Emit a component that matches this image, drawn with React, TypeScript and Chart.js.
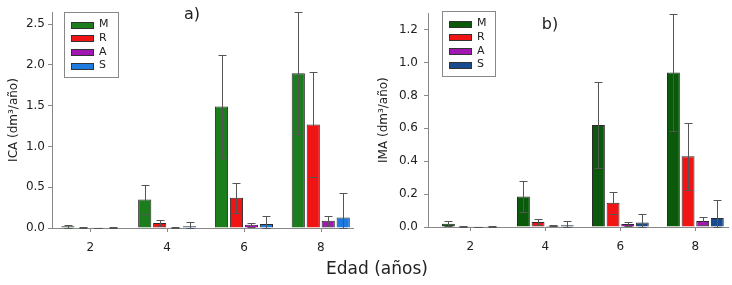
import React, { useEffect, useRef } from "react";
import { Chart, registerables } from "chart.js";

Chart.register(...registerables);

// ---- data ----
const ageLabels = ["2", "4", "6", "8"];
const ages = [2, 4, 6, 8];
const seriesNames = ["M", "R", "A", "S"];

// Panel a) ICA (dm³/año)
const icaM = [0.02, 0.35, 1.49, 1.9];
const icaR = [0.005, 0.06, 0.37, 1.27];
const icaA = [0.003, 0.01, 0.04, 0.09];
const icaS = [0.005, 0.02, 0.05, 0.13];
const icaErrM = [0.015, 0.18, 0.63, 0.75];
const icaErrR = [0.003, 0.04, 0.18, 0.65];
const icaErrA = [0.002, 0.008, 0.025, 0.06];
const icaErrS = [0.003, 0.05, 0.1, 0.3];
const icaTicks = [0, 0.5, 1.0, 1.5, 2.0, 2.5];
const icaTickLabels = ["0.0", "0.5", "1.0", "1.5", "2.0", "2.5"];

// Panel b) IMA (dm³/año)
const imaM = [0.02, 0.185, 0.62, 0.94];
const imaR = [0.005, 0.03, 0.147, 0.43];
const imaA = [0.002, 0.008, 0.018, 0.036];
const imaS = [0.004, 0.01, 0.028, 0.055];
const imaErrM = [0.015, 0.096, 0.26, 0.355];
const imaErrR = [0.002, 0.02, 0.067, 0.205];
const imaErrA = [0.001, 0.004, 0.012, 0.024];
const imaErrS = [0.002, 0.026, 0.05, 0.112];
const imaTicks = [0, 0.2, 0.4, 0.6, 0.8, 1.0, 1.2];
const imaTickLabels = ["0.0", "0.2", "0.4", "0.6", "0.8", "1.0", "1.2"];

const colorsA = ["#1c7d1c", "#f01414", "#a217b2", "#1f7ae0"];
const colorsB = ["#0b5a0b", "#f01414", "#a217b2", "#1a4b8e"];

const FONT = "'DejaVu Sans', Verdana, sans-serif";

const errorBarPlugin = {
  id: "errorBars",
  afterDatasetsDraw(chart: any) {
    const { ctx } = chart;
    const yScale = chart.scales.y;
    chart.data.datasets.forEach((ds: any, i: number) => {
      const meta = chart.getDatasetMeta(i);
      meta.data.forEach((el: any, j: number) => {
        const v = ds.data[j].y;
        const e = ds.errors[j];
        const x = Math.round(el.x) + 0.5;
        const yt = Math.round(yScale.getPixelForValue(v + e)) + 0.5;
        const yb = Math.round(yScale.getPixelForValue(Math.max(0, v - e))) + 0.5;
        ctx.save();
        ctx.strokeStyle = "#555";
        ctx.lineWidth = 1;
        ctx.beginPath();
        ctx.moveTo(x, yt);
        ctx.lineTo(x, yb);
        ctx.moveTo(x - 4, yt);
        ctx.lineTo(x + 4, yt);
        ctx.moveTo(x - 4, yb);
        ctx.lineTo(x + 4, yb);
        ctx.stroke();
        ctx.restore();
      });
    });
  },
};

const decoPlugin = {
  id: "deco",
  afterDraw(chart: any) {
    const o = chart.options.plugins.deco;
    if (!o) return;
    const { ctx } = chart;
    ctx.save();
    // x tick marks at the age positions
    const xs = chart.scales.x;
    const base = Math.round(chart.chartArea.bottom);
    ctx.strokeStyle = "#888";
    ctx.lineWidth = 1;
    ctx.beginPath();
    ages.forEach((a) => {
      const px = Math.round(xs.getPixelForValue(a)) + 0.5;
      ctx.moveTo(px, base);
      ctx.lineTo(px, base + 4);
    });
    ctx.stroke();
    // panel label
    ctx.fillStyle = "#222";
    ctx.font = `16px ${FONT}`;
    ctx.textAlign = "center";
    ctx.textBaseline = "middle";
    ctx.fillText(o.label, o.labelX, o.labelY);
    // legend box
    const b = o.box;
    ctx.strokeStyle = "#888";
    ctx.lineWidth = 1;
    ctx.strokeRect(b.x + 0.5, b.y + 0.5, b.w, b.h);
    ctx.font = `11px ${FONT}`;
    ctx.textAlign = "left";
    chart.data.datasets.forEach((ds: any, i: number) => {
      const cy = b.y + 12.5 + i * 13.7;
      ctx.fillStyle = ds.backgroundColor;
      ctx.fillRect(b.x + 7, Math.round(cy - 3), 22, 6);
      ctx.strokeStyle = "#333";
      ctx.strokeRect(b.x + 7.5, Math.round(cy - 3) + 0.5, 22, 6);
      ctx.fillStyle = "#222";
      ctx.fillText(ds.label, b.x + 35, cy);
    });
    ctx.restore();
  },
};

type Panel = {
  values: number[][];
  errors: number[][];
  colors: string[];
  yMax: number;
  yTicks: number[];
  yTickLabels: string[];
  yTitle: string;
  xMin: number;
  xMax: number;
  yAxisWidth: number;
  xAxisHeight: number;
  padRight: number;
  yTickPad: number;
  yTitlePad: number;
  label: string;
  labelX: number;
  labelY: number;
  box: { x: number; y: number; w: number; h: number };
};

function makeConfig(p: Panel): any {
  return {
    type: "bar",
    data: {
      datasets: seriesNames.map((name, k) => ({
        label: name,
        data: ages.map((a, j) => ({ x: a, y: p.values[k][j] })),
        errors: p.errors[k],
        backgroundColor: p.colors[k],
        borderColor: "#2a2a2a",
        borderWidth: 1,
        categoryPercentage: 0.78,
        barPercentage: 0.88,
      })),
    },
    options: {
      responsive: false,
      animation: false,
      layout: { padding: { left: 0, right: p.padRight, top: 12, bottom: 0 } },
      plugins: {
        legend: { display: false },
        tooltip: { enabled: false },
        deco: { label: p.label, labelX: p.labelX, labelY: p.labelY, box: p.box },
      },
      scales: {
        x: {
          type: "linear",
          min: p.xMin,
          max: p.xMax,
          offset: false,
          afterBuildTicks: (s: any) => {
            s.ticks = ages.map((v) => ({ value: v }));
          },
          afterFit: (s: any) => {
            s.height = p.xAxisHeight;
          },
          ticks: {
            callback: (v: any) => ageLabels[ages.indexOf(Number(v))],
            font: { family: FONT, size: 12 },
            color: "#222",
            padding: 9,
            maxRotation: 0,
          },
          grid: {
            display: true,
            offset: false,
            drawOnChartArea: false,
            tickLength: 4,
            color: "rgba(0,0,0,0)",
          },
          border: { display: true, color: "#888", width: 1 },
        },
        y: {
          min: 0,
          max: p.yMax,
          afterBuildTicks: (s: any) => {
            s.ticks = p.yTicks.map((v) => ({ value: v }));
          },
          afterFit: (s: any) => {
            s.width = p.yAxisWidth;
          },
          ticks: {
            callback: (v: any) => p.yTickLabels[p.yTicks.indexOf(Number(v))],
            font: { family: FONT, size: 12 },
            color: "#222",
            padding: p.yTickPad,
          },
          grid: { display: true, drawOnChartArea: false, tickLength: 4, color: "#888" },
          border: { display: true, color: "#888", width: 1 },
          title: {
            display: true,
            text: p.yTitle,
            font: { family: FONT, size: 12 },
            color: "#222",
            padding: { top: p.yTitlePad, bottom: 0 },
          },
        },
      },
    },
    plugins: [errorBarPlugin, decoPlugin],
  };
}

const panelA: Panel = {
  values: [icaM, icaR, icaA, icaS],
  errors: [icaErrM, icaErrR, icaErrA, icaErrS],
  colors: colorsA,
  yMax: 2.65,
  yTicks: icaTicks,
  yTickLabels: icaTickLabels,
  yTitle: "ICA (dm³/año)",
  xMin: 1.0,
  xMax: 8.84,
  yAxisWidth: 52,
  xAxisHeight: 57,
  padRight: 13,
  yTickPad: 3,
  yTitlePad: 7,
  label: "a)",
  labelX: 192,
  labelY: 15,
  box: { x: 64, y: 12, w: 54, h: 65 },
};

const panelB: Panel = {
  values: [imaM, imaR, imaA, imaS],
  errors: [imaErrM, imaErrR, imaErrA, imaErrS],
  colors: colorsB,
  yMax: 1.3,
  yTicks: imaTicks,
  yTickLabels: imaTickLabels,
  yTitle: "IMA (dm³/año)",
  xMin: 0.87,
  xMax: 8.87,
  yAxisWidth: 62,
  xAxisHeight: 58,
  padRight: 4,
  yTickPad: 6,
  yTitlePad: 11,
  label: "b)",
  labelX: 184,
  labelY: 25,
  box: { x: 76, y: 11, w: 53, h: 65 },
};

function BarPanel({ panel, left }: { panel: Panel; left: number }) {
  const ref = useRef<HTMLCanvasElement | null>(null);
  useEffect(() => {
    if (!ref.current) return;
    const chart = new Chart(ref.current, makeConfig(panel));
    return () => chart.destroy();
  }, [panel]);
  return (
    <canvas
      ref={ref}
      width={366}
      height={285}
      style={{ position: "absolute", left, top: 0, width: 366, height: 285 }}
    />
  );
}

export default function App() {
  return (
    <div
      style={{
        position: "absolute",
        left: 0,
        top: 0,
        width: 732,
        height: 285,
        background: "#fff",
        overflow: "hidden",
      }}
    >
      <BarPanel panel={panelA} left={0} />
      <BarPanel panel={panelB} left={366} />
      <div
        style={{
          position: "absolute",
          left: 0,
          width: 754,
          top: 257,
          textAlign: "center",
          fontFamily: FONT,
          fontSize: 17,
          lineHeight: "22px",
          color: "#222",
        }}
      >
        Edad (años)
      </div>
    </div>
  );
}
